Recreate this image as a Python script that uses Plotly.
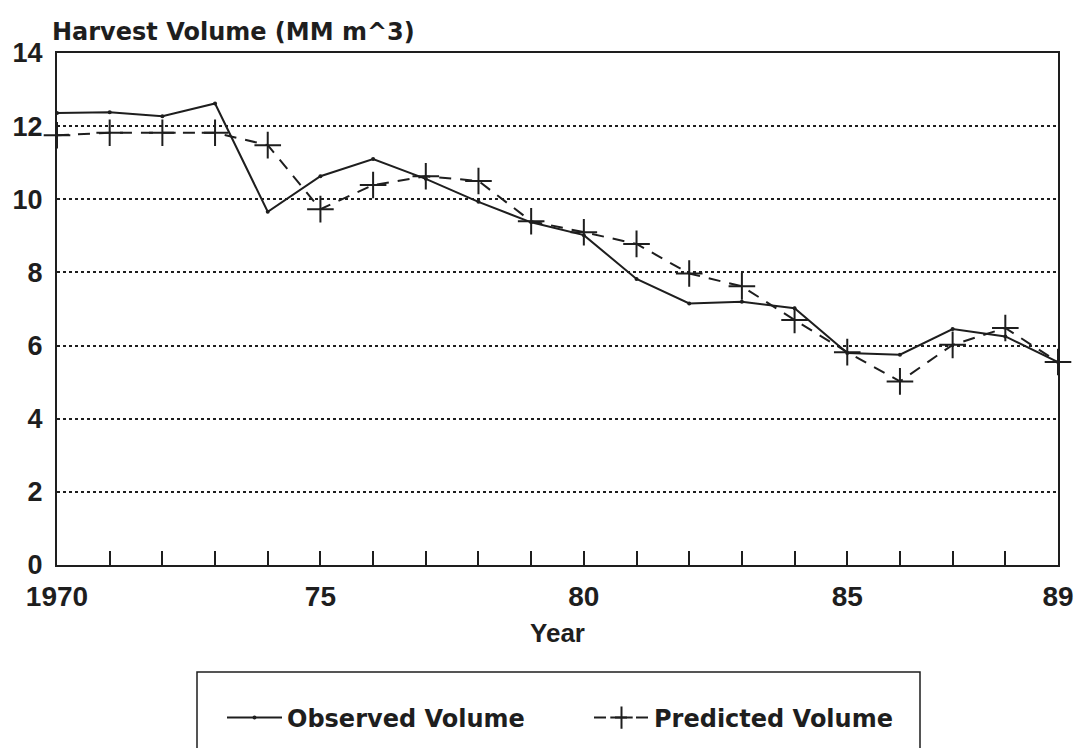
import plotly.graph_objects as go

years = list(range(1970, 1990))
observed = [12.36, 12.38, 12.27, 12.62, 9.66, 10.63, 11.1, 10.56, 9.93, 9.37,
            9.02, 7.82, 7.15, 7.2, 7.02, 5.8, 5.75, 6.45, 6.25, 5.55]
predicted = [11.75, 11.82, 11.82, 11.82, 11.48, 9.73, 10.39, 10.63, 10.5, 9.4,
             9.1, 8.78, 7.97, 7.62, 6.7, 5.82, 5.02, 6.02, 6.48, 5.55]
x_tickvals = [1970, 1975, 1980, 1985, 1989]
x_ticktext = ["1970", "75", "80", "85", "89"]
y_tickvals = [0, 2, 4, 6, 8, 10, 12, 14]

INK = "#1e1e1e"
NUM_FONT = "Liberation Sans"
TXT_FONT = "DejaVu Sans"

# page has an 8px body margin; plot area targets page x 57..1058, y 53..565
PL, PR, PT, PB = 57, 1058, 53, 565
OFF = 8
W, H = 1085 - OFF, 748 - OFF
pw, ph = PR - PL, PB - PT


def px(x):
    return (x - PL) / pw


def py(y):
    return (PB - y) / ph


fig = go.Figure()
fig.add_trace(go.Scatter(
    x=years, y=observed, name="Observed Volume", mode="lines+markers",
    line=dict(color=INK, width=2),
    marker=dict(symbol="circle", size=4, color=INK),
    cliponaxis=False, legend="legend",
))
fig.add_trace(go.Scatter(
    x=years, y=predicted, name="Predicted Volume", mode="lines+markers",
    line=dict(color=INK, width=2, dash="12px,9px"),
    marker=dict(symbol="cross-thin", size=19, line=dict(color=INK, width=2)),
    cliponaxis=False, legend="legend2",
))

legend_common = dict(
    orientation="h", yanchor="middle", xanchor="left",
    font=dict(family=TXT_FONT, size=24, color=INK, weight="bold"),
    bgcolor="rgba(0,0,0,0)", itemwidth=55,
)

fig.update_layout(
    width=W, height=H,
    margin=dict(l=PL - OFF, r=W - (PR - OFF), t=PT - OFF, b=H - (PB - OFF), autoexpand=False),
    paper_bgcolor="white", plot_bgcolor="white",
    font=dict(family=NUM_FONT, color=INK, size=24, weight="bold"),
    showlegend=True,
    legend=dict(x=px(222), y=py(718), **legend_common),
    legend2=dict(x=px(589), y=py(718), **legend_common),
    xaxis=dict(
        range=[1970, 1989], tickmode="array", tickvals=x_tickvals, ticktext=x_ticktext,
        ticks="inside", ticklen=14, tickwidth=1.5, tickcolor=INK,
        minor=dict(tickmode="linear", tick0=1970, dtick=1, ticks="inside",
                   ticklen=14, tickwidth=1.5, tickcolor=INK, showgrid=False),
        showgrid=False, zeroline=False, automargin=False,
        showline=True, linecolor=INK, linewidth=2, mirror=True,
        tickfont=dict(family=NUM_FONT, size=28, color=INK, weight="bold"),
        ticklabelstandoff=5,
        title=dict(text="Year", font=dict(family=NUM_FONT, size=26, color=INK, weight="bold"), standoff=13),
    ),
    yaxis=dict(
        range=[0, 14], tickmode="array", tickvals=y_tickvals,
        showgrid=True, gridcolor=INK, gridwidth=1.5, griddash="dot",
        zeroline=False, ticks="", automargin=False,
        showline=True, linecolor=INK, linewidth=2, mirror=True,
        tickfont=dict(family=NUM_FONT, size=27, color=INK, weight="bold"),
        ticklabelstandoff=7,
    ),
    annotations=[dict(
        text="Harvest Volume (MM m^3)", xref="paper", yref="paper",
        x=px(50), y=1.0, xanchor="left", yanchor="bottom", yshift=5, showarrow=False,
        font=dict(family=TXT_FONT, size=24, color=INK, weight="bold"),
    )],
    shapes=[dict(
        type="rect", xref="paper", yref="paper",
        x0=px(197), x1=px(920), y0=py(672), y1=py(770),
        line=dict(color=INK, width=1.5), fillcolor="rgba(0,0,0,0)",
    )],
)

fig.write_html("out.html")
